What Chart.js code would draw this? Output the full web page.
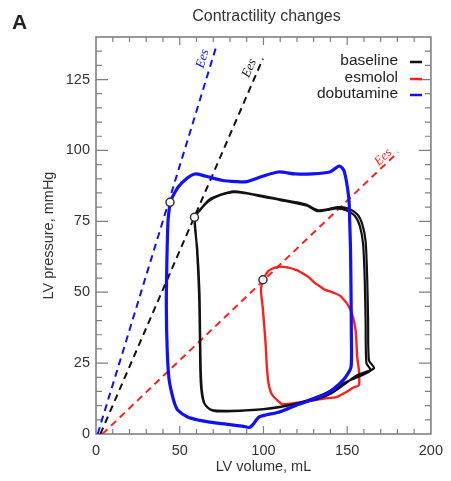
<!DOCTYPE html>
<html>
<head>
<meta charset="utf-8">
<script src="https://cdn.jsdelivr.net/npm/chart.js@4.4.1/dist/chart.umd.min.js"></script>
<style>
  html, body { margin: 0; padding: 0; background: #fff; }
</style>
</head>
<body>
<canvas id="pv" width="451" height="481"></canvas>
<script>
const volumeTicks = [0, 50, 100, 150, 200];
const pressureTicks = [0, 25, 50, 75, 100, 125];

const seriesNames = ['baseline', 'esmolol', 'dobutamine'];
const seriesColors = ['#111111', '#ff1f1f', '#1010ff'];

// baseline loop, two beats, starting at end-systole
const baselineV = [58.8, 60.3, 61.5, 62, 62.3, 63, 64.6, 68, 72, 90, 109, 129, 140.6, 156, 166,
  163, 162.5, 162, 161, 159, 156, 150, 144, 138, 132.5, 125, 109, 100, 90, 82, 75, 68, 62, 58.8,
  60.5, 61.8, 62.2, 62.6, 63.3, 65, 69, 80, 100, 120, 135, 150, 164,
  161.5, 161, 160.5, 159.5, 157.5, 154.5, 149, 144, 138, 132, 126, 110, 100, 90, 82, 74, 67, 61.5, 58.8];
const baselineP = [76.4, 65, 50, 35, 22, 15, 10.8, 8.7, 8, 8.3, 9.4, 11.8, 14.4, 20.7, 23.2,
  26, 40, 54, 68, 74, 77.5, 79.6, 80, 79.2, 78.9, 81, 82.8, 83.9, 85, 85.6, 84.5, 82.8, 79, 76.4,
  65, 50, 35, 22, 15, 10.5, 8.5, 8.2, 8.8, 10.8, 13.8, 18.5, 22.3,
  25, 40, 54, 67, 73.5, 77, 79, 79.6, 79, 78.6, 80.5, 82.5, 83.6, 84.8, 85.3, 84.2, 82, 78.5, 76.4];

// esmolol loop
const esmololV = [99.7, 98.5, 99.5, 100.5, 101.4, 102, 103, 105, 109, 111.4, 120, 129, 136, 143.5,
  150, 154, 157, 157, 156, 155, 152, 146.5, 142, 136.5, 134.8, 130.6, 126.6, 119, 109, 103, 99.7];
const esmololP = [54.4, 51, 45, 38, 30.7, 24, 18, 14, 11.5, 10.5, 11, 11.8, 12.5, 13,
  15, 16.5, 17.2, 22.5, 27, 36.7, 43.8, 48.4, 49.8, 50.9, 51.6, 53.3, 55.5, 58, 59, 57.5, 54.4];

// dobutamine loop
const dobutamineV = [44.2, 43, 42.3, 42, 42.5, 43.5, 45, 47, 49, 54.7, 62, 68, 80, 88, 91.5, 94, 97.4,
  109, 119, 138, 145, 149, 152.3, 152.5, 152.3, 152, 151.5, 151, 148.2, 145.3, 140, 129, 119, 109,
  100, 90, 84, 75, 65, 59, 54, 49, 46, 44.2];
const dobutamineP = [81.7, 75, 60, 45, 30, 20, 15, 10.7, 8.3, 6, 4.8, 4.2, 3.3, 2.7, 2.3, 3.5, 6,
  7.7, 10, 14.3, 17.5, 20, 23.6, 35, 50, 65, 75, 83, 92.7, 94.5, 92.5, 91.7, 91.7, 92.4,
  91, 89, 89, 89.5, 91, 91.7, 90, 87, 84, 81.7];

// end-systolic pressure-volume points: baseline, esmolol, dobutamine
const espV = [58.8, 99.7, 44.2];
const espP = [76.4, 54.4, 81.7];

// end-systolic elastance lines
const baselineEesV = [2.6, 99.7];
const baselineEesP = [0, 132.4];
const esmololEesV = [3.8, 180.4];
const esmololEesP = [0, 99.4];
const dobutamineEesV = [1, 72];
const dobutamineEesP = [0, 137];

const FONT = 'Liberation Sans, Arial, Helvetica, sans-serif';

function pts(v, p) {
  return v.map((x, i) => ({ x: x, y: p[i] }));
}

function loop(v, p, color, width) {
  return { data: pts(v, p), showLine: true, borderColor: color, borderWidth: width,
    pointRadius: 0, tension: 0.25, fill: false };
}

function eesLine(v, p, color) {
  return { data: pts(v, p), showLine: true, borderColor: color, borderWidth: 2,
    borderDash: [7, 5], pointRadius: 0, tension: 0, fill: false };
}

// box with inward ticks on all four sides
const frame = {
  id: 'frame',
  beforeDatasetsDraw(chart) {
    const { ctx, chartArea: a, scales: { x, y } } = chart;
    ctx.save();
    ctx.strokeStyle = '#808080';
    ctx.lineWidth = 1.2;
    ctx.beginPath();
    for (let v = 10; v < 200; v += 10) {
      const px = x.getPixelForValue(v);
      const len = v % 50 === 0 ? 8 : 5;
      ctx.moveTo(px, a.bottom); ctx.lineTo(px, a.bottom - len);
      ctx.moveTo(px, a.top); ctx.lineTo(px, a.top + len);
    }
    for (let p = 5; p < 140; p += 5) {
      const py = y.getPixelForValue(p);
      const len = p % 25 === 0 ? 12 : 6;
      ctx.moveTo(a.left, py); ctx.lineTo(a.left + len, py);
      ctx.moveTo(a.right, py); ctx.lineTo(a.right - len, py);
    }
    ctx.stroke();
    ctx.lineWidth = 1.6;
    ctx.strokeRect(a.left, a.top, a.right - a.left, a.bottom - a.top);
    ctx.restore();
  }
};

// "Ees" labels along the dashed lines
const eesLabels = {
  id: 'eesLabels',
  afterDatasetsDraw(chart) {
    const { ctx, scales: { x, y } } = chart;
    const items = [
      [baselineEesV, baselineEesP, seriesColors[0], 0.965, 8.5],
      [esmololEesV, esmololEesP, seriesColors[1], 0.965, 6.5],
      [dobutamineEesV, dobutamineEesP, seriesColors[2], 0.959, 9.5]
    ];
    ctx.save();
    ctx.font = 'italic 13px "Liberation Serif", "Times New Roman", serif';
    ctx.textAlign = 'center';
    ctx.textBaseline = 'middle';
    items.forEach(([v, p, color, t, off]) => {
      const x0 = x.getPixelForValue(v[0]), y0 = y.getPixelForValue(p[0]);
      const x1 = x.getPixelForValue(v[1]), y1 = y.getPixelForValue(p[1]);
      const ang = Math.atan2(y1 - y0, x1 - x0);
      const cx = x0 + (x1 - x0) * t + Math.sin(ang) * off;
      const cy = y0 + (y1 - y0) * t - Math.cos(ang) * off;
      ctx.save();
      ctx.translate(cx, cy);
      ctx.rotate(ang);
      ctx.fillStyle = color;
      ctx.fillText('Ees', 0, 0);
      ctx.restore();
    });
    ctx.restore();
  }
};

// title, panel letter and legend
const annotations = {
  id: 'annotations',
  afterDraw(chart) {
    const { ctx, chartArea: a } = chart;
    ctx.save();
    ctx.fillStyle = '#222';
    ctx.font = 'bold 21px ' + FONT;
    ctx.textAlign = 'left';
    ctx.textBaseline = 'alphabetic';
    ctx.fillText('A', 12, 29);

    ctx.fillStyle = '#333';
    ctx.font = '16px ' + FONT;
    ctx.textAlign = 'center';
    ctx.textBaseline = 'middle';
    ctx.fillText('Contractility changes', (a.left + a.right) / 2 + 3, 17);

    ctx.font = '15.5px ' + FONT;
    ctx.textAlign = 'right';
    const rows = [61, 78, 94];
    seriesNames.forEach((name, i) => {
      ctx.fillStyle = '#222';
      ctx.fillText(name, 398, rows[i]);
      ctx.strokeStyle = seriesColors[i];
      ctx.lineWidth = 2.5;
      ctx.beginPath();
      ctx.moveTo(410, rows[i] + 1);
      ctx.lineTo(422, rows[i] + 1);
      ctx.stroke();
    });
    ctx.restore();
  }
};

new Chart(document.getElementById('pv').getContext('2d'), {
  type: 'scatter',
  data: {
    datasets: [
      { data: pts(espV, espP), showLine: false, pointRadius: 4, pointBackgroundColor: '#fff',
        pointBorderColor: '#333', pointBorderWidth: 1.5 },
      loop(dobutamineV, dobutamineP, seriesColors[2], 3.2),
      loop(baselineV, baselineP, seriesColors[0], 2.2),
      loop(esmololV, esmololP, seriesColors[1], 2.4),
      eesLine(baselineEesV, baselineEesP, seriesColors[0]),
      eesLine(esmololEesV, esmololEesP, seriesColors[1]),
      eesLine(dobutamineEesV, dobutamineEesP, seriesColors[2])
    ]
  },
  options: {
    responsive: false,
    animation: false,
    layout: { padding: { left: 36, right: 13, top: 37, bottom: 0 } },
    plugins: { legend: { display: false }, tooltip: { enabled: false } },
    scales: {
      x: {
        type: 'linear', min: 0, max: 200,
        afterBuildTicks: s => { s.ticks = volumeTicks.map(v => ({ value: v })); },
        afterFit: s => { s.height = 47; },
        grid: { display: false, drawTicks: false },
        border: { display: false },
        ticks: { color: '#333', font: { family: FONT, size: 14.5 }, padding: 8, maxRotation: 0, autoSkip: false },
        title: { display: true, text: 'LV volume, mL', color: '#333', font: { family: FONT, size: 14.5 },
          padding: { top: 0, bottom: 5 } }
      },
      y: {
        type: 'linear', min: 0, max: 140,
        afterBuildTicks: s => { s.ticks = pressureTicks.map(v => ({ value: v })); },
        afterFit: s => { s.width = 60; },
        grid: { display: false, drawTicks: false },
        border: { display: false },
        ticks: { color: '#333', font: { family: FONT, size: 14.5 }, padding: 6, autoSkip: false },
        title: { display: true, text: 'LV pressure, mmHg', color: '#333', font: { family: FONT, size: 14.5 },
          padding: { top: 4, bottom: 0 } }
      }
    }
  },
  plugins: [frame, eesLabels, annotations]
});
</script>
</body>
</html>
